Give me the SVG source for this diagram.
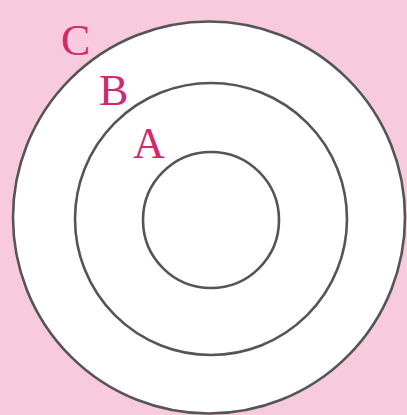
<svg xmlns="http://www.w3.org/2000/svg" width="407" height="415" viewBox="0 0 407 415">
<style>
.ring{fill:#ffffff;stroke:#555555;stroke-width:2.6}
.lbl{font-family:"Liberation Serif","Times New Roman",serif;font-size:44px;fill:#cf2a6e}
</style>
<rect width="407" height="415" fill="#f8cadd"/>
<g id="ringC"><circle class="ring" cx="209" cy="217.5" r="196"/></g>
<g id="ringB"><circle class="ring" cx="211" cy="219" r="136"/></g>
<g id="ringA"><circle class="ring" cx="211" cy="220" r="68"/></g>
<g id="labelC"><text class="lbl" x="61" y="55">C</text></g>
<g id="labelB"><text class="lbl" x="99" y="105">B</text></g>
<g id="labelA"><text class="lbl" x="133" y="158">A</text></g>
<g id="connectors"/>
</svg>
